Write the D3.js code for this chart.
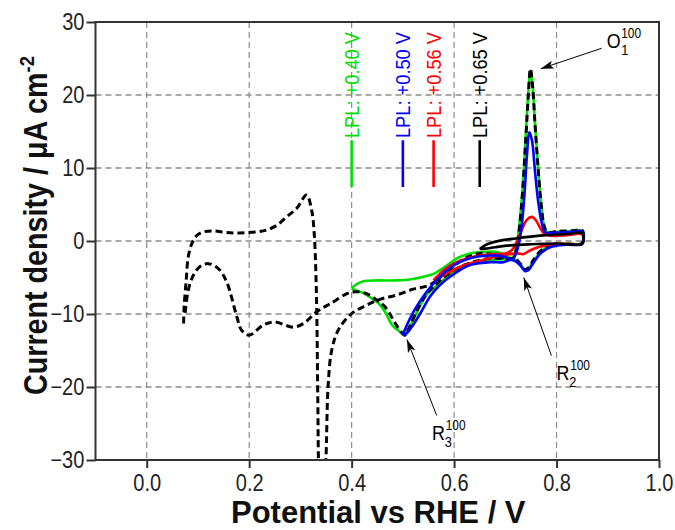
<!DOCTYPE html>
<html><head><meta charset="utf-8">
<script src="https://cdn.jsdelivr.net/npm/d3@7"></script>
<style>body{margin:0;background:#fff}svg{display:block}text{font-family:"Liberation Sans",Arial,sans-serif}</style>
</head><body><svg id="c" width="675" height="530"></svg>
<script>
// ---------- data ----------
const xTicks = [0.0, 0.2, 0.4, 0.6, 0.8, 1.0];
const yTicks = [-30, -20, -10, 0, 10, 20, 30];
const xGrid = [0.0, 0.2, 0.4, 0.6, 0.8];
const yGrid = [-20, -10, 0, 10, 20];

// full CV (dashed black), potential V, current uA/cm2
const cvFull = [[0.072,-11.3],[0.073,-9.0],[0.077,-5.4],[0.081,-2.2],[0.088,-0.36],[0.098,0.78],[0.11,1.23],[0.13,1.37],[0.156,1.15],[0.182,1.1],[0.215,1.25],[0.234,1.5],[0.254,2.15],[0.273,3.3],[0.293,4.5],[0.312,6.3],[0.322,4.2],[0.327,1.0],[0.330,-4],[0.332,-10],[0.334,-22],[0.336,-32],[0.341,-38],[0.347,-33],[0.350,-29.6],[0.354,-20],[0.361,-15],[0.374,-12.2],[0.40,-9.95],[0.429,-8.8],[0.455,-8.0],[0.488,-7.4],[0.52,-6.6],[0.553,-6.0],[0.585,-4.25],[0.618,-2.5],[0.65,-1.7],[0.683,-1.96],[0.703,-2.4],[0.715,-2.4],[0.722,-1.0],[0.728,2],[0.734,7],[0.740,14],[0.745,20],[0.749,23.6],[0.753,21.5],[0.758,16],[0.764,10],[0.770,5],[0.776,2],[0.782,1.2],[0.80,1.3],[0.83,1.4],[0.85,1.45],[0.85,-0.3],[0.82,-0.4],[0.79,-0.6],[0.77,-1.3],[0.755,-2.6],[0.745,-3.7],[0.738,-3.9],[0.73,-3.2],[0.72,-2.5],[0.70,-2.4],[0.67,-2.4],[0.64,-2.8],[0.61,-3.6],[0.585,-4.7],[0.565,-5.9],[0.546,-7.3],[0.527,-9.6],[0.51,-12.2],[0.504,-12.9],[0.49,-11.8],[0.465,-9.0],[0.449,-8.1],[0.429,-7.2],[0.40,-7.0],[0.358,-8.6],[0.332,-9.7],[0.306,-11.3],[0.286,-11.8],[0.25,-11.1],[0.228,-11.5],[0.2,-12.9],[0.185,-12.2],[0.176,-10.4],[0.156,-5.6],[0.14,-3.8],[0.12,-3.1],[0.104,-3.5],[0.091,-4.7],[0.081,-6.75],[0.075,-9.9]];

// LPL +0.40 V (green)
const lpl040 = [[0.40,-6.5],[0.41,-5.9],[0.423,-5.5],[0.45,-5.4],[0.488,-5.4],[0.52,-5.2],[0.54,-4.9],[0.56,-4.5],[0.572,-4.0],[0.585,-3.4],[0.605,-2.4],[0.631,-1.7],[0.657,-1.5],[0.683,-1.5],[0.703,-2.0],[0.713,-2.4],[0.72,-1.2],[0.727,2],[0.734,7.5],[0.740,14.5],[0.745,20.5],[0.749,23.3],[0.753,21.5],[0.758,16],[0.764,10],[0.770,5],[0.776,2],[0.782,1.2],[0.80,1.25],[0.83,1.35],[0.85,1.4],[0.85,-0.3],[0.82,-0.4],[0.79,-0.6],[0.77,-1.4],[0.755,-2.8],[0.745,-3.8],[0.738,-4.0],[0.73,-3.2],[0.72,-2.6],[0.70,-2.5],[0.67,-2.6],[0.64,-3.0],[0.61,-3.8],[0.585,-5.0],[0.565,-6.2],[0.546,-7.4],[0.527,-9.8],[0.51,-12.3],[0.504,-12.9],[0.49,-12.2],[0.48,-11.6],[0.465,-9.7],[0.452,-8.5],[0.44,-7.9],[0.425,-7.2],[0.41,-6.8],[0.40,-6.5]];

// LPL +0.50 V (blue)
const lpl050 = [[0.50,-12.9],[0.505,-12.0],[0.51,-11.2],[0.524,-9.3],[0.543,-7.3],[0.56,-5.8],[0.58,-4.4],[0.60,-3.3],[0.625,-2.5],[0.65,-2.1],[0.68,-2.0],[0.70,-2.2],[0.713,-2.6],[0.722,-1.5],[0.73,1.0],[0.737,6],[0.742,11.5],[0.747,14.9],[0.752,13.8],[0.758,9.5],[0.764,5.5],[0.771,2.5],[0.778,1.2],[0.80,1.15],[0.83,1.25],[0.85,1.3],[0.85,-0.4],[0.82,-0.5],[0.79,-0.8],[0.77,-1.6],[0.755,-3.0],[0.745,-4.0],[0.738,-4.1],[0.73,-3.4],[0.72,-2.8],[0.71,-2.6],[0.696,-2.9],[0.67,-2.9],[0.631,-3.3],[0.592,-4.9],[0.57,-6.2],[0.553,-7.6],[0.535,-9.8],[0.52,-11.5],[0.508,-12.6],[0.50,-12.9]];

// LPL +0.56 V (red)
const lpl056 = [[0.56,-5.4],[0.565,-5.0],[0.572,-4.5],[0.585,-3.7],[0.605,-2.9],[0.63,-2.3],[0.65,-2.0],[0.68,-1.8],[0.70,-1.7],[0.712,-1.3],[0.722,-0.2],[0.732,1.5],[0.742,2.9],[0.752,3.3],[0.76,2.8],[0.768,1.8],[0.776,1.0],[0.79,0.7],[0.82,0.8],[0.85,0.9],[0.85,-0.4],[0.82,-0.4],[0.80,-0.4],[0.767,-0.8],[0.748,-1.3],[0.735,-1.8],[0.725,-1.7],[0.71,-1.8],[0.69,-2.0],[0.657,-2.6],[0.62,-3.3],[0.59,-4.3],[0.57,-5.0],[0.56,-5.4]];

// LPL +0.65 V (black)
const lpl065 = [[0.65,-1.1],[0.66,-0.6],[0.67,-0.3],[0.69,0.05],[0.72,0.35],[0.75,0.6],[0.78,0.8],[0.82,0.95],[0.85,1.05],[0.85,-0.35],[0.80,-0.35],[0.75,-0.45],[0.71,-0.6],[0.68,-0.85],[0.66,-1.05],[0.65,-1.1]];

const legendLabels = ["LPL: +0.40 V", "LPL: +0.50 V", "LPL: +0.56 V", "LPL: +0.65 V"];
const legendLPL = [0.40, 0.50, 0.56, 0.65];

const peakNames = [["O","1","100"], ["R","2","100"], ["R","3","100"]];
const peakTips = [[0.769, 23.6], [0.736, -5.0], [0.508, -13.5]];
const peakTails = [[0.888, 26.4], [0.79, -15.7], [0.566, -23.9]];
const peakLabelAt = [[0.898, 26.4], [0.80, -19.1], [0.557, -27.3]];

// ---------- styles ----------
const colors = ["#00e000", "#0000ff", "#ff0000", "#000000"];

const svg = d3.select("#c");
const x = d3.scaleLinear().domain([-0.1, 1.0]).range([95.5, 659]);
const y = d3.scaleLinear().domain([-30, 30]).range([460, 22]);

const defs = svg.append("defs");
defs.append("clipPath").attr("id", "clip").append("rect")
  .attr("x", x(-0.1)).attr("y", y(30)).attr("width", x(1.0) - x(-0.1)).attr("height", y(-30) - y(30));
defs.append("marker").attr("id", "arr").attr("viewBox", "0 -5 14 10")
  .attr("refX", 13).attr("refY", 0).attr("markerWidth", 14).attr("markerHeight", 10)
  .attr("markerUnits", "userSpaceOnUse").attr("orient", "auto")
  .append("path").attr("d", "M0,-4 L13,0 L0,4 L3,0 Z").attr("fill", "#000");

// grid
const grid = svg.append("g").attr("stroke", "#8c8c8c").attr("stroke-dasharray", "6,4");
grid.selectAll(".gx").data(xGrid).join("line")
  .attr("x1", d => x(d)).attr("x2", d => x(d)).attr("y1", y(30)).attr("y2", y(-30)).attr("stroke-width", 1.2);
grid.selectAll(".gy").data(yGrid).join("line")
  .attr("y1", d => y(d)).attr("y2", d => y(d)).attr("x1", x(-0.1)).attr("x2", x(1.0)).attr("stroke-width", 1.4);

// axes
const xAxis = d3.axisBottom(x).tickValues(xTicks).tickFormat(d3.format(".1f")).tickSize(8).tickPadding(7);
const gx = svg.append("g").attr("transform", `translate(0,${y(-30)})`).call(xAxis);
gx.select(".domain").remove();
gx.selectAll(".tick line").attr("stroke", "#333").attr("stroke-width", 2);
gx.selectAll(".tick text").attr("font-size", 23).attr("fill", "#222")
  .attr("font-family", "Liberation Sans, Arial, sans-serif").attr("transform", "scale(0.87,1)");

const yAxis = d3.axisLeft(y).tickValues(yTicks).tickFormat(d3.format("d")).tickSize(9).tickPadding(3);
const gy = svg.append("g").attr("transform", `translate(${x(-0.1)},0)`).call(yAxis);
gy.select(".domain").remove();
gy.selectAll(".tick line").attr("stroke", "#333").attr("stroke-width", 2);
gy.selectAll(".tick text").attr("font-size", 23).attr("fill", "#222").attr("x", -12.8)
  .attr("font-family", "Liberation Sans, Arial, sans-serif").attr("transform", "scale(0.87,1)");

// curves
const line = d3.line().x(d => x(d[0])).y(d => y(d[1])).curve(d3.curveCatmullRom.alpha(0.5));
const plot = svg.append("g").attr("clip-path", "url(#clip)").attr("fill", "none").attr("stroke-linejoin", "round");
plot.append("path").datum(lpl040).attr("d", line).attr("stroke", colors[0]).attr("stroke-width", 2.6);
plot.append("path").datum(cvFull).attr("d", line).attr("stroke", "#000").attr("stroke-width", 3).attr("stroke-dasharray", "7,4");
plot.append("path").datum(lpl056).attr("d", line).attr("stroke", colors[2]).attr("stroke-width", 2.6);
plot.append("path").datum(lpl050).attr("d", line).attr("stroke", colors[1]).attr("stroke-width", 2.6);
plot.append("path").datum(lpl065).attr("d", line).attr("stroke", colors[3]).attr("stroke-width", 2.6);

// border
svg.append("rect").attr("x", x(-0.1)).attr("y", y(30)).attr("width", x(1.0) - x(-0.1)).attr("height", y(-30) - y(30))
  .attr("fill", "none").attr("stroke", "#333").attr("stroke-width", 2);

// legend (rotated, at LPL positions)
const leg = svg.append("g");
legendLabels.forEach((t, i) => {
  const cx = x(legendLPL[i]);
  leg.append("line").attr("x1", cx).attr("x2", cx).attr("y1", y(7.4)).attr("y2", y(13.8))
    .attr("stroke", colors[i]).attr("stroke-width", 2.6);
  leg.append("text").attr("transform", `translate(${cx + 7.5},${y(14.1)}) rotate(-90) scale(0.87,1)`)
    .attr("font-size", 21).attr("fill", colors[i]).text(t);
});

// peak annotations
const ann = svg.append("g");
peakNames.forEach((p, i) => {
  ann.append("line").attr("x1", x(peakTails[i][0])).attr("y1", y(peakTails[i][1]))
    .attr("x2", x(peakTips[i][0])).attr("y2", y(peakTips[i][1]))
    .attr("stroke", "#000").attr("stroke-width", 1).attr("marker-end", "url(#arr)");
  const lx = x(peakLabelAt[i][0]), ly = y(peakLabelAt[i][1]);
  const g = ann.append("g").attr("transform", `translate(${lx},${ly}) scale(0.85,1)`);
  g.append("text").attr("font-size", 21).text(p[0]);
  g.append("text").attr("x", p[0] === "O" ? 17 : 15).attr("y", 7).attr("font-size", 15).text(p[1]);
  g.append("text").attr("x", p[0] === "O" ? 17 : 16).attr("y", -10).attr("font-size", 14).text(p[2]);
});

// axis titles
svg.append("text").attr("x", (x(-0.1) + x(1.0)) / 2 + 1).attr("y", 523).attr("text-anchor", "middle")
  .attr("font-size", 31).attr("font-weight", "bold").attr("fill", "#111").text("Potential vs RHE / V");
const yt = svg.append("text").attr("transform", "translate(47,395) rotate(-90) scale(0.87,1)")
  .attr("font-size", 33).attr("font-weight", "bold").attr("fill", "#111");
yt.append("tspan").text("Current density / \u03bcA cm");
yt.append("tspan").attr("dy", -13).attr("font-size", 21).text("-2");
</script></body></html>
